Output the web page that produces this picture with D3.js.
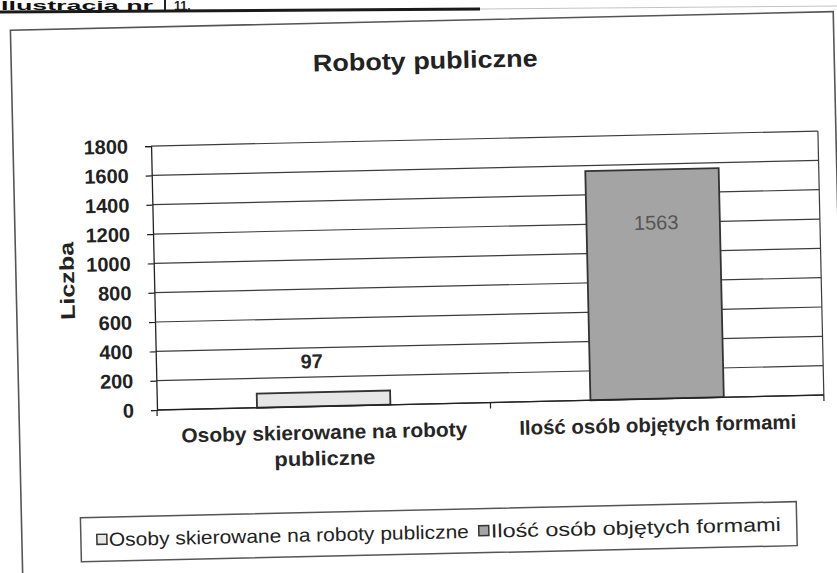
<!DOCTYPE html>
<html>
<head>
<meta charset="utf-8">
<script src="https://cdn.jsdelivr.net/npm/d3@7"></script>
<style>
  html, body { margin: 0; padding: 0; background: #fff; }
  svg { display: block; font-family: "Liberation Sans", Arial, sans-serif; }
</style>
</head>
<body>
<svg id="chart" width="837" height="573"></svg>
<script>
// ---- data ----
const categories = ["Osoby skierowane na roboty publiczne", "Ilość osób objętych formami"];
const categoryLines = [["Osoby skierowane na roboty", "publiczne"], ["Ilość osób objętych formami"]];
const categoryLineLen = [[286, 101], [277]];
const values = [97, 1563];
const yTicks = [0, 200, 400, 600, 800, 1000, 1200, 1400, 1600, 1800];
const title = "Roboty publiczne";
const yTitle = "Liczba";
const seriesFills = ["#e6e6e6", "#a4a4a4"];

// ---- layout ----
const svg = d3.select("#chart");
const plot = { left: 157, right: 824, top: 146, bottom: 410 };
const tilt = -1.29; // scan rotation

// page header fragment
const hdr = svg.append("g");
hdr.append("text").attr("x", 1).attr("y", 9.5).attr("font-size", 12.5).attr("font-weight", "bold")
  .attr("fill", "#111").attr("textLength", 152).attr("lengthAdjust", "spacingAndGlyphs").text("Ilustracja nr");
hdr.append("line").attr("x1", 165).attr("x2", 165).attr("y1", 0).attr("y2", 11)
  .attr("stroke", "#222").attr("stroke-width", 2);
hdr.append("text").attr("x", 174).attr("y", 9.5).attr("font-size", 12.5).attr("font-weight", "bold")
  .attr("fill", "#222").text("11.");
hdr.append("line").attr("x1", 0).attr("y1", 12).attr("x2", 480).attr("y2", 9)
  .attr("stroke", "#1a1a1a").attr("stroke-width", 3);
hdr.append("line").attr("x1", 480).attr("y1", 9).attr("x2", 837).attr("y2", 6)
  .attr("stroke", "#c4c4c4").attr("stroke-width", 1);

const g = svg.append("g").attr("transform", `rotate(${tilt},${plot.left},${plot.bottom})`);

// chart frame
g.append("rect").attr("x", 19).attr("y", 27).attr("width", 823).attr("height", 600)
  .attr("fill", "none").attr("stroke", "#555").attr("stroke-width", 1.6);

// scales
const x = d3.scaleBand().domain(categories).range([plot.left, plot.right])
  .paddingInner(0.6).paddingOuter(0.3);
const y = d3.scaleLinear().domain([0, 1800]).range([plot.bottom, plot.top]);

// gridlines
g.append("g").selectAll("line").data(yTicks).join("line")
  .attr("x1", plot.left).attr("x2", plot.right)
  .attr("y1", d => y(d)).attr("y2", d => y(d))
  .attr("stroke", "#3c3c3c").attr("stroke-width", 1.2);

// right border of plot area
g.append("line").attr("x1", plot.right).attr("x2", plot.right)
  .attr("y1", plot.top).attr("y2", plot.bottom)
  .attr("stroke", "#3c3c3c").attr("stroke-width", 1.2);

// bars
g.append("g").selectAll("rect").data(values).join("rect")
  .attr("x", (d, i) => x(categories[i]))
  .attr("width", x.bandwidth())
  .attr("y", d => y(d))
  .attr("height", d => y(0) - y(d))
  .attr("fill", (d, i) => seriesFills[i])
  .attr("stroke", "#333").attr("stroke-width", 1.8);

// y axis
const yAxis = g.append("g").attr("transform", `translate(${plot.left},0)`)
  .call(d3.axisLeft(y).tickValues(yTicks).tickSize(6).tickPadding(17).tickFormat(d3.format("d")));
yAxis.select(".domain").attr("stroke", "#222").attr("stroke-width", 1.3);
yAxis.selectAll(".tick line").attr("stroke", "#222").attr("stroke-width", 1.2);
yAxis.selectAll(".tick text").attr("font-size", 20).attr("font-weight", "bold")
  .attr("fill", "#222").attr("font-family", "Liberation Sans, Arial, sans-serif");

// x axis baseline + category separator ticks
g.append("line").attr("x1", plot.left).attr("x2", plot.right)
  .attr("y1", y(0)).attr("y2", y(0)).attr("stroke", "#222").attr("stroke-width", 1.3);
g.append("g").selectAll("line").data(d3.range(categories.length + 1)).join("line")
  .attr("x1", (d) => plot.left + d * (plot.right - plot.left) / categories.length)
  .attr("x2", (d) => plot.left + d * (plot.right - plot.left) / categories.length)
  .attr("y1", y(0)).attr("y2", y(0) + 6)
  .attr("stroke", "#222").attr("stroke-width", 1.2);

// category labels
const catG = g.append("g");
categoryLines.forEach((lines, i) => {
  const cx = x(categories[i]) + x.bandwidth() / 2;
  lines.forEach((ln, j) => {
    catG.append("text").attr("x", cx).attr("y", 443 + j * 26)
      .attr("text-anchor", "middle").attr("font-size", 20).attr("font-weight", "bold")
      .attr("fill", "#262626")
      .attr("textLength", categoryLineLen[i][j]).attr("lengthAdjust", "spacingAndGlyphs").text(ln);
  });
});

// value labels
g.append("text").attr("x", x(categories[0]) + x.bandwidth() / 2 - 11).attr("y", y(values[0]) - 24)
  .attr("text-anchor", "middle").attr("font-size", 20).attr("font-weight", "bold")
  .attr("fill", "#262626").text(values[0]);
g.append("text").attr("x", x(categories[1]) + x.bandwidth() / 2 + 3).attr("y", y(values[1]) + 60)
  .attr("text-anchor", "middle").attr("font-size", 20)
  .attr("fill", "#555").text(values[1]);

// title
g.append("text").attr("x", 433).attr("y", 75).attr("text-anchor", "middle")
  .attr("font-size", 24).attr("font-weight", "bold").attr("fill", "#222")
  .attr("textLength", 225).attr("lengthAdjust", "spacingAndGlyphs").text(title);

// y axis title
g.append("text").attr("transform", "translate(77,279) rotate(-90)")
  .attr("text-anchor", "middle").attr("font-size", 20).attr("font-weight", "bold")
  .attr("fill", "#222").attr("textLength", 78).attr("lengthAdjust", "spacingAndGlyphs").text(yTitle);

// legend
const lg = g.append("g");
lg.append("rect").attr("x", 78).attr("y", 516).attr("width", 716).attr("height", 44)
  .attr("fill", "#fff").attr("stroke", "#555").attr("stroke-width", 1.5);
const legendX = [94, 476];
const legendLen = [360, 290];
categories.forEach((c, i) => {
  lg.append("rect").attr("x", legendX[i]).attr("y", 533).attr("width", 10).attr("height", 10)
    .attr("fill", seriesFills[i]).attr("stroke", "#333").attr("stroke-width", 1.5);
  lg.append("text").attr("x", legendX[i] + 12).attr("y", 545)
    .attr("font-size", 19).attr("fill", "#222")
    .attr("textLength", legendLen[i]).attr("lengthAdjust", "spacingAndGlyphs").text(c);
});
</script>
</body>
</html>
